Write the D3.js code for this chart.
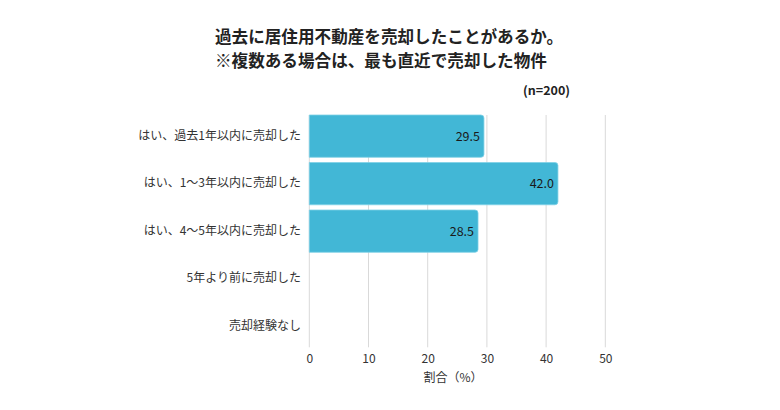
<!DOCTYPE html>
<html><head><meta charset="utf-8">
<script src="https://cdn.jsdelivr.net/npm/d3@7"></script>
<style>
body{margin:0;background:#fff;}
text{font-family:"Noto Sans CJK JP","Noto Sans",sans-serif;}
</style></head>
<body><svg id="c" width="780" height="410"></svg>
<script>
const categories = ["はい、過去1年以内に売却した","はい、1〜3年以内に売却した","はい、4〜5年以内に売却した","5年より前に売却した","売却経験なし"];
const values = [29.5, 42.0, 28.5, null, null];
const xTicks = [0,10,20,30,40,50];
const titleLines = ["過去に居住用不動産を売却したことがあるか。","※複数ある場合は、最も直近で売却した物件"];
const nLabel = "(n=200)";
const xTitle = "割合（%）";

const svg = d3.select("#c");
const x = d3.scaleLinear().domain([0,50]).range([309.3,605.3]);
const y = d3.scaleBand().domain(categories).range([115,347.3]).paddingInner(0.11).paddingOuter(0);

// title
svg.selectAll("text.title").data(titleLines).join("text")
  .attr("x",215).attr("y",(d,i)=>43+i*23.5)
  .attr("font-size",16.6).attr("font-weight","bold").attr("fill","#222")
  .text(d=>d);
svg.append("text").attr("x",570).attr("y",94.5).attr("text-anchor","end")
  .attr("font-size",12.5).attr("font-weight","bold").attr("fill","#222").text(nLabel);

// grid
svg.append("g").selectAll("line").data(xTicks).join("line")
  .attr("x1",d=>x(d)).attr("x2",d=>x(d)).attr("y1",115).attr("y2",347.3)
  .attr("stroke","#d9d9d9").attr("stroke-width",1);

// x axis labels
const xa = svg.append("g").attr("transform","translate(0,347.3)")
  .call(d3.axisBottom(x).tickValues(xTicks).tickSize(0).tickPadding(7).tickFormat(d3.format("d")));
xa.select(".domain").remove();
xa.selectAll("text").attr("font-size",12).attr("fill","#333").style("font-family",'"Noto Sans CJK JP","Noto Sans",sans-serif');

svg.append("text").attr("x",453).attr("y",382).attr("text-anchor","middle")
  .attr("font-size",12).attr("fill","#333").text(xTitle);

// y labels
const ya = svg.append("g").attr("transform","translate(301,0)")
  .call(d3.axisLeft(y).tickSize(0).tickPadding(0));
ya.select(".domain").remove();
ya.selectAll("text").attr("font-size",12).attr("fill","#333").style("font-family",'"Noto Sans CJK JP","Noto Sans",sans-serif');

// bars
const data = categories.map((c,i)=>({c,v:values[i]})).filter(d=>d.v!=null);
const r = 3;
svg.append("g").selectAll("path").data(data).join("path")
  .attr("d",d=>{
    const x0=x(0), x1=x(d.v), y0=y(d.c), h=y.bandwidth();
    return `M${x0},${y0}H${x1-r}Q${x1},${y0} ${x1},${y0+r}V${y0+h-r}Q${x1},${y0+h} ${x1-r},${y0+h}H${x0}Z`;
  })
  .attr("fill","#42b7d6").attr("stroke","#7fd0e6").attr("stroke-width",0.8);

svg.append("g").selectAll("text").data(data).join("text")
  .attr("x",d=>x(d.v)-4).attr("y",d=>y(d.c)+y.bandwidth()/2)
  .attr("dy","0.35em").attr("text-anchor","end")
  .attr("font-size",12.5).attr("fill","#1a1a1a")
  .text(d=>d.v.toFixed(1));
</script></body></html>
